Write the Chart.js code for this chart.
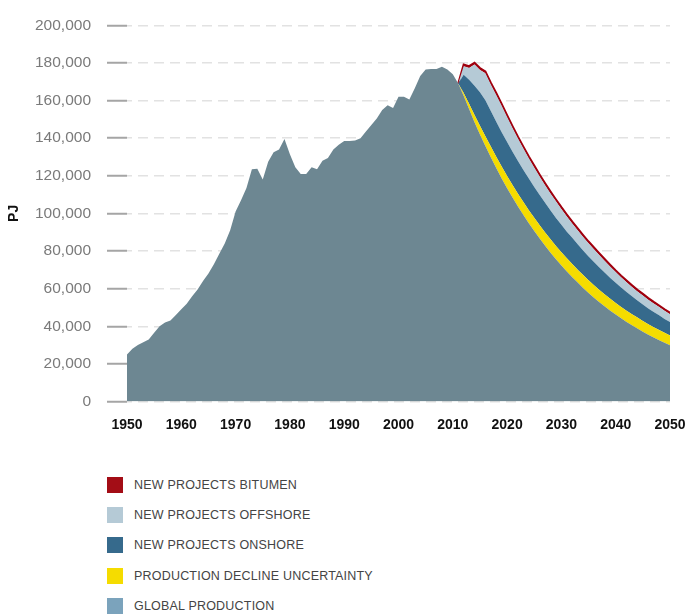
<!DOCTYPE html>
<html>
<head>
<meta charset="utf-8">
<script src="https://cdn.jsdelivr.net/npm/chart.js@4.4.1/dist/chart.umd.min.js"></script>
<style>
  body { margin: 0; background: #fff; font-family: "Liberation Sans", Arial, sans-serif; }
  #wrap { position: absolute; left: 0; top: 0; width: 689px; height: 440px; }
  #legend { position: absolute; left: 107px; top: 477px; margin: 0; padding: 0; list-style: none; }
  #legend li { height: 16px; margin-bottom: 14.2px; display: flex; align-items: center; }
  #legend .sw { width: 16px; height: 16px; margin-right: 11px; flex: none; }
  #legend .tx { font-size: 12.5px; color: #444; letter-spacing: 0.2px; white-space: nowrap; }
</style>
</head>
<body>
<div id="wrap"><canvas id="chart"></canvas></div>
<ul id="legend"></ul>
<script>
// Global production, historical 1950-2011 then projected decline to 2050
const productionYears = [1950,1951,1952,1953,1954,1955,1956,1957,1958,1959,
  1960,1961,1962,1963,1964,1965,1966,1967,1968,1969,
  1970,1971,1972,1973,1974,1975,1976,1977,1978,1979,
  1980,1981,1982,1983,1984,1985,1986,1987,1988,1989,
  1990,1991,1992,1993,1994,1995,1996,1997,1998,1999,
  2000,2001,2002,2003,2004,2005,2006,2007,2008,2009,
  2010,2011,2012,2013,2014,2015,2016,2017,2018,2019,
  2020,2021,2022,2023,2024,2025,2026,2027,2028,2029,
  2030,2031,2032,2033,2034,2035,2036,2037,2038,2039,
  2040,2041,2042,2043,2044,2045,2046,2047,2048,2049,2050];
const globalProduction = [25000,28000,30000,31500,33000,36500,40000,42000,43000,46000,
  49000,52000,56000,59500,64000,68000,73000,78500,84000,91000,
  101000,107000,113500,123500,123800,118000,127500,132500,134000,139500,
  131500,124500,121000,121000,124500,123500,128000,129500,134000,136500,
  138500,138500,138800,140000,143500,147000,150500,155000,157500,156000,
  162000,162000,160500,166500,173000,176500,176800,176800,178000,176500,
  174000,169000,162500,155500,148500,142000,135800,129800,124100,118600,
  113400,108400,103700,99100,94700,90600,86600,82800,79100,75600,
  72300,69100,66100,63200,60400,57700,55200,52800,50500,48300,
  46200,44200,42300,40500,38800,37100,35500,34000,32600,31200,29900];

// Projection bands stacked on top of global production
const projYears = [2011,2012,2013,2014,2015,2016,2017,2018,2019,
  2020,2021,2022,2023,2024,2025,2026,2027,2028,2029,
  2030,2031,2032,2033,2034,2035,2036,2037,2038,2039,
  2040,2041,2042,2043,2044,2045,2046,2047,2048,2049,2050];
const declineUncertainty = [0,1500,2800,3800,4600,5200,5700,6000,6300,
  6500,6700,6800,6900,7000,7100,7100,7100,7100,7100,
  7100,7000,7000,6900,6800,6700,6600,6500,6400,6300,
  6200,6100,6000,5900,5800,5700,5600,5500,5400,5300,5200];
const newOnshore = [0,9700,12800,15600,17800,19200,19000,18600,18300,
  18000,17700,17400,17100,16800,16400,16100,15700,15300,14900,
  14500,14200,13900,13500,13100,12700,12300,11900,11500,11100,
  10700,10300,9900,9500,9100,8800,8400,8100,7800,7400,7100];
const newOffshore = [0,4500,6200,11200,11900,14300,14000,14300,14000,
  13300,12600,11900,11400,10800,10300,9800,9400,9100,8800,
  8400,8100,7600,7400,7200,7000,6800,6600,6300,6000,
  5700,5400,5200,5000,4800,4700,4600,4500,4400,4300,4200];
const newBitumen = [0,1000,1000,1000,1000,1000,1000,1000,1000,
  1000,1000,1000,1000,1000,1000,1000,1000,1000,1000,
  1000,1000,1000,1000,1000,950,950,950,950,950,
  900,900,900,900,900,900,850,850,850,850,850];

const yTicks = [0,20000,40000,60000,80000,100000,120000,140000,160000,180000,200000];

const legendItems = [
  { label: 'NEW PROJECTS BITUMEN', color: '#a30d16' },
  { label: 'NEW PROJECTS OFFSHORE', color: '#b5cad6' },
  { label: 'NEW PROJECTS ONSHORE', color: '#366a8c' },
  { label: 'PRODUCTION DECLINE UNCERTAINTY', color: '#f5dc00' },
  { label: 'GLOBAL PRODUCTION', color: '#7ba3bc' }
];

const toPoints = (xs, ys) => xs.map((x, i) => ({ x: x, y: ys[i] }));

const area = (label, xs, ys, color, fill) => ({
  label: label,
  data: toPoints(xs, ys),
  backgroundColor: color,
  borderColor: color,
  borderWidth: 0,
  pointRadius: 0,
  fill: fill,
  tension: 0
});

const datasets = [
  area('GLOBAL PRODUCTION', productionYears, globalProduction, '#6d8792', 'origin'),
  area('PRODUCTION DECLINE UNCERTAINTY', projYears, declineUncertainty, '#f5dc00', '-1'),
  area('NEW PROJECTS ONSHORE', projYears, newOnshore, '#366a8c', '-1'),
  area('NEW PROJECTS OFFSHORE', projYears, newOffshore, '#b5cad6', '-1'),
  area('NEW PROJECTS BITUMEN', projYears, newBitumen, '#a30d16', '-1')
];
datasets[4].borderWidth = 2;
datasets[4].borderColor = '#a0000e';

new Chart(document.getElementById('chart'), {
  type: 'line',
  data: { datasets: datasets },
  options: {
    responsive: true,
    maintainAspectRatio: false,
    animation: false,
    devicePixelRatio: 1,
    layout: { padding: { left: 0, right: 19, top: 23, bottom: 0 } },
    plugins: { legend: { display: false }, tooltip: { enabled: false } },
    scales: {
      x: {
        type: 'linear',
        min: 1950,
        max: 2050,
        grid: { display: false },
        border: { display: false },
        ticks: {
          stepSize: 10,
          padding: 7,
          color: '#111',
          font: { family: '"Liberation Sans", Arial, sans-serif', size: 14, weight: 'bold' },
          callback: v => String(v)
        },
        afterFit: s => { s.height = 38.5; s.paddingRight = 0; s.paddingLeft = 0; }
      },
      y: {
        stacked: true,
        min: 0,
        max: 200000,
        afterBuildTicks: s => { s.ticks = yTicks.map(v => ({ value: v })); },
        grid: {
          color: '#e2e2e2',
          lineWidth: 1.5,
          tickLength: 20,
          tickColor: '#a5a5a5',
          tickWidth: 2,
          tickBorderDash: []
        },
        border: { display: false, dash: [10, 6], dashOffset: 5 },
        ticks: {
          padding: 16,
          color: '#7a7a7a',
          font: { family: '"Liberation Sans", Arial, sans-serif', size: 15.5 },
          callback: v => v.toLocaleString('en-US')
        },
        title: {
          display: true,
          text: 'PJ',
          color: '#111',
          padding: { top: 6, bottom: 0 },
          font: { family: '"Liberation Sans", Arial, sans-serif', size: 14, weight: 'bold' }
        },
        afterFit: s => { s.width = 127; }
      }
    }
  }
});

// Legend below the chart, same order as the reference
const legendEl = document.getElementById('legend');
legendItems.forEach(item => {
  const li = document.createElement('li');
  li.innerHTML = `<span class="sw" style="background:${item.color}"></span><span class="tx">${item.label}</span>`;
  legendEl.appendChild(li);
});
</script>
</body>
</html>
